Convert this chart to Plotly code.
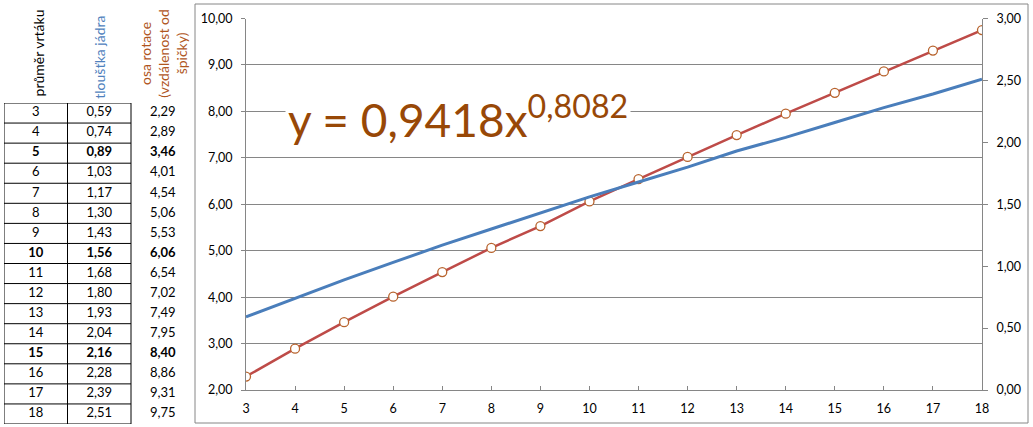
import plotly.graph_objects as go

W, H = 1033, 427

# ---- data ----
prumer = [3, 4, 5, 6, 7, 8, 9, 10, 11, 12, 13, 14, 15, 16, 17, 18]
tloustka = [0.59, 0.74, 0.89, 1.03, 1.17, 1.30, 1.43, 1.56, 1.68, 1.80, 1.93, 2.04, 2.16, 2.28, 2.39, 2.51]
osa = [2.29, 2.89, 3.46, 4.01, 4.54, 5.06, 5.53, 6.06, 6.54, 7.02, 7.49, 7.95, 8.40, 8.86, 9.31, 9.75]
bold_rows = [5, 10, 15]
header_prumer = "průměr vrtáku"
header_tloustka = "tloušťka jádra"
header_osa = "osa rotace<br>(vzdálenost od<br>špičky)"
equation = "y = 0,9418x<sup>0,8082</sup>"
left_ticks = [2, 3, 4, 5, 6, 7, 8, 9, 10]
right_ticks = [0, 0.5, 1.0, 1.5, 2.0, 2.5, 3.0]

FONT = "Lato"
GRID = "#868686"
BLUE = "#4A7EBB"
RED = "#BE4B48"
MARK = "#B8642E"
BROWN = "#984807"


def px(x):
    return x / W


def py(y):
    return (H - y) / H


def fmt(v):
    return f"{v:.2f}".replace(".", ",")


fig = go.Figure()

# blue: core thickness on right axis
fig.add_trace(go.Scatter(x=prumer, y=tloustka, mode="lines", yaxis="y2",
                         line=dict(color=BLUE, width=3), hoverinfo="skip"))
# red: axis of rotation on left axis
fig.add_trace(go.Scatter(x=prumer, y=osa, mode="lines",
                         line=dict(color=RED, width=2.5), hoverinfo="skip"))
fig.add_trace(go.Scatter(x=prumer, y=osa, mode="markers",
                         marker=dict(symbol="circle", size=9, color="white",
                                     line=dict(color=MARK, width=1.3)),
                         hoverinfo="skip"))

# ---- table (on hidden axes x3/y3) ----
n = len(prumer)
cols = [[], [], []]
for i in range(n):
    vals = [str(prumer[i]), fmt(tloustka[i]), fmt(osa[i])]
    b = prumer[i] in bold_rows
    for c in range(3):
        cols[c].append(f"<b>{vals[c]}</b>" if b else vals[c])
for c in range(3):
    fig.add_trace(go.Scatter(x=[c + 0.5] * n, y=[i + 0.5 for i in range(n)],
                             mode="text", text=cols[c], xaxis="x3", yaxis="y3",
                             textfont=dict(family=FONT, size=13, color="#000000"),
                             hoverinfo="skip"))

shapes = []
for r in range(n + 1):
    shapes.append(dict(type="line", xref="x3", yref="y3", x0=0, x1=2, y0=r, y1=r,
                       line=dict(color="#000000", width=1)))
for c in range(3):
    shapes.append(dict(type="line", xref="x3", yref="y3", x0=c, x1=c, y0=0, y1=n,
                       line=dict(color="#000000", width=1)))
# chart frame
shapes.append(dict(type="rect", xref="paper", yref="paper",
                   x0=px(195), x1=px(1028), y0=py(423), y1=py(4),
                   line=dict(color=GRID, width=1), layer="below"))

annotations = [
    dict(text=header_prumer, xref="x3", yref="paper", x=0.55, y=py(98),
         yanchor="bottom", textangle=-90, showarrow=False,
         font=dict(family=FONT, size=14, color="#000000")),
    dict(text=header_tloustka, xref="x3", yref="paper", x=1.5, y=py(101),
         yanchor="bottom", textangle=-90, showarrow=False,
         font=dict(family=FONT, size=14, color="#4F81BD")),
    dict(text=header_osa, xref="x3", yref="paper", x=2.5, y=py(53),
         yanchor="middle", textangle=-90, showarrow=False, align="center",
         font=dict(family=FONT, size=14, color="#B0561E")),
    dict(text=equation, xref="x", yref="y", x=3.8, y=7.9, xanchor="left",
         yanchor="middle", showarrow=False, bgcolor="white", borderpad=2,
         font=dict(family=FONT, size=46, color=BROWN)),
]

axfont = dict(family=FONT, size=12.5, color="#000000")
fig.update_layout(
    width=W, height=H, margin=dict(l=0, r=0, t=0, b=0, autoexpand=False),
    paper_bgcolor="white", plot_bgcolor="white", showlegend=False,
    separators=",.",
    xaxis=dict(domain=[px(246), px(982)], range=[3, 18], tickvals=prumer,
               showgrid=False, zeroline=False, showline=True, linecolor=GRID,
               ticks="inside", ticklen=4, tickcolor=GRID, tickfont=axfont,
               ticklabelstandoff=7, fixedrange=True, automargin=False),
    yaxis=dict(domain=[py(390), py(18.5)], range=[2, 10], tickvals=left_ticks,
               tickformat=".2f", showgrid=True, gridcolor=GRID, gridwidth=1,
               zeroline=False, showline=True, linecolor=GRID, ticks="outside",
               ticklen=4, tickcolor=GRID, tickfont=axfont, ticklabelstandoff=6,
               fixedrange=True, automargin=False),
    yaxis2=dict(overlaying="y", side="right", anchor="x", range=[0, 3],
                tickvals=right_ticks, tickformat=".2f", showgrid=False,
                zeroline=False, showline=True, linecolor=GRID, ticks="outside",
                ticklen=5, tickcolor=GRID, tickfont=axfont, ticklabelstandoff=6,
                fixedrange=True, automargin=False),
    xaxis3=dict(domain=[px(4), px(194.5)], range=[0, 3], visible=False,
                fixedrange=True),
    yaxis3=dict(domain=[py(424), py(103)], range=[n, 0], visible=False,
                anchor="x3", fixedrange=True),
    shapes=shapes, annotations=annotations,
)

fig.write_html("out.html", config={"displayModeBar": False},
               post_script="document.body.style.margin='0';document.body.style.overflow='hidden';")
